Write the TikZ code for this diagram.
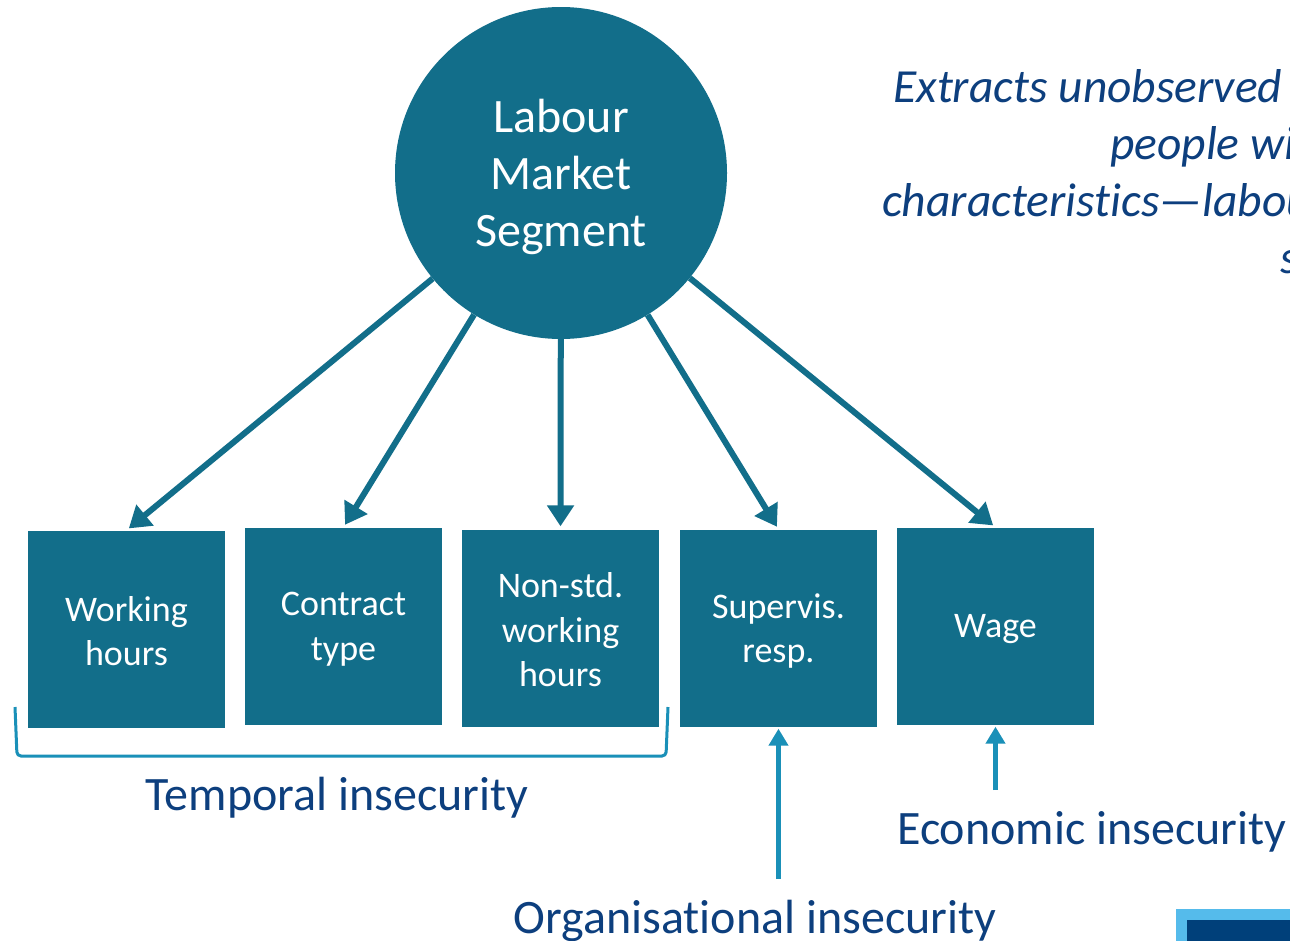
\documentclass[tikz,border=0pt]{standalone}
\usepackage{fontspec}
\setmainfont{Carlito}[Ligatures=NoCommon]
\usetikzlibrary{arrows.meta}
\definecolor{segteal}{HTML}{126E8A}
\definecolor{linkblue}{HTML}{1A90B8}
\definecolor{labelblue}{HTML}{0D3F7E}
\definecolor{skyblue}{HTML}{55BBEB}
\definecolor{navyblue}{HTML}{00407A}
\tikzset{
  latent/.style={circle, fill=segteal, inner sep=0pt, minimum size=332pt},
  latenttext/.style={text=white, inner sep=0pt, align=center, font=\fontsize{48}{57}\selectfont},
  indicator/.style={rectangle, fill=segteal, inner sep=0pt, minimum size=197pt},
  boxtext/.style={text=white, inner sep=0pt, align=center, font=\fontsize{36}{44.5}\selectfont},
  load/.style={draw=segteal, line width=6pt, -{Triangle[length=21pt,width=26pt]}, shorten >=3pt},
  group/.style={draw=linkblue, line width=5pt, -{Triangle[length=17pt,width=19pt]}, shorten >=2pt},
  label/.style={text=labelblue, inner sep=0pt, font=\fontsize{48}{57}\selectfont},
  note/.style={text=labelblue, inner sep=0pt, font=\fontsize{47.5}{57}\selectfont\itshape},
}
\begin{document}
\begin{tikzpicture}[x=1pt, y=-1pt]
\useasboundingbox (0,0) rectangle (1290,940);
\fill[white] (0,0) rectangle (1290,940);
\clip (0,0) rectangle (1290,940);

% latent segment and its indicators
\node[latent] (lms) at (561,173) {};
\node[latenttext] (lmst) at (561,177) {Labour\\Market\\Segment};
\node[indicator] (wh)  at (126.5,629) {};
\node[indicator] (ct)  at (343.5,626) {};
\node[indicator] (nsw) at (560.5,628) {};
\node[indicator] (sup) at (778.5,628) {};
\node[indicator] (wage) at (995.5,626) {};
\node[boxtext] (wht)  at (126.5,631) {Working\\hours};
\node[boxtext] (ctt)  at (343.5,629) {Contract\\type};
\node[boxtext] (nswt) at (560.5,630) {Non-std.\\working\\hours};
\node[boxtext] (supt) at (778.5,631) {Supervis.\\resp.};
\node[boxtext] (waget) at (995.5,629) {Wage};

\draw[load] (lms) -- (wh.north);
\draw[load] (lms) -- (ct.north);
\draw[load] (lms) -- (nsw.north);
\draw[load] (lms) -- (sup.north);
\draw[load] (lms) -- (wage.north);

% temporal bracket
\coordinate (brA) at (15,707);
\coordinate (brB) at (17,756);
\coordinate (brC) at (666,756);
\coordinate (brD) at (668,707);
\draw[linkblue, line width=3pt, rounded corners=4pt] (brA) -- (brB) -- (brC) -- (brD);
\node[label, anchor=base] (temp) at (337,810) {Temporal insecurity};

% organisational and economic pointers
\coordinate (orgfoot) at (778.5,879);
\coordinate (ecofoot) at (995.5,790);
\draw[group] (orgfoot) -- (sup.south);
\draw[group] (ecofoot) -- (wage.south);
\node[label, anchor=base] (org) at (755,933) {Organisational insecurity};
\node[label, anchor=base west] (eco) at (897,844) {Economic insecurity};

% note text
\node[note, anchor=base west] (n1) at (893,102) {Extracts unobserved groups of};
\node[note, anchor=base west] (n2) at (1110,159) {people with similar};
\node[note, anchor=base west] (n3) at (882,216) {characteristics—labour market};
\node[note, anchor=base west] (n4) at (1280,273) {segments};

% corner badge
\fill[skyblue] (1176,909) rectangle (1300,950);
\fill[navyblue] (1187,920) rectangle (1300,950);
\end{tikzpicture}
\end{document}
